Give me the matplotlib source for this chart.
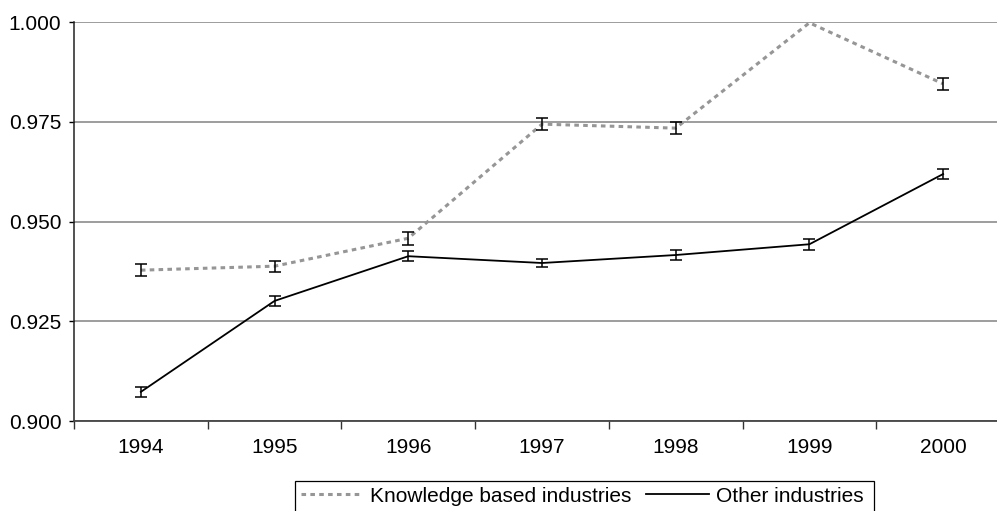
import numpy as np
import matplotlib
matplotlib.use('Agg')
import matplotlib.pyplot as plt
from matplotlib.patches import Rectangle

plt.rcParams['font.family'] = ['Liberation Sans', 'DejaVu Sans']
plt.rcParams['font.size'] = 15

# data
years = ['1994', '1995', '1996', '1997', '1998', '1999', '2000']
knowledge = [0.9378, 0.9388, 0.9458, 0.9744, 0.9734, 0.9998, 0.9845]
knowledge_err = [0.0015, 0.0014, 0.0016, 0.0015, 0.0015, np.nan, 0.0015]
other = [0.9073, 0.9301, 0.9413, 0.9396, 0.9416, 0.9443, 0.9619]
other_err = [0.0012, 0.0012, 0.0012, 0.0011, 0.0013, 0.0014, 0.0012]

W, H = 997, 511
fig = plt.figure(figsize=(W / 100, H / 100), dpi=100)
ax = fig.add_axes([74 / W, (H - 421) / H, 936 / W, 399 / H])

x = np.arange(len(years))

ax.plot(x, knowledge, color='#969696', lw=2.2, linestyle=(0, (1.5, 1.4)),
        label='Knowledge based industries', zorder=3)
ax.plot(x, other, color='black', lw=1.3, label='Other industries', zorder=3)
ax.errorbar(x, knowledge, yerr=knowledge_err, fmt='none', ecolor='black',
            elinewidth=1.1, capsize=4.3, capthick=1.1, zorder=4)
ax.errorbar(x, other, yerr=other_err, fmt='none', ecolor='black',
            elinewidth=1.1, capsize=4.3, capthick=1.1, zorder=4)

ax.set_xlim(-0.5, len(years) - 0.5)
ax.set_ylim(0.9, 1.0)
ax.set_yticks([0.900, 0.925, 0.950, 0.975, 1.000])
ax.set_yticklabels(['0.900', '0.925', '0.950', '0.975', '1.000'])
ax.yaxis.grid(True, color='#8c8c8c', lw=1.2)
ax.set_axisbelow(True)

# category labels centred, ticks on the boundaries
ax.set_xticks(x)
ax.set_xticklabels(years)
ax.tick_params(axis='x', which='major', length=0, pad=12.5)
ax.set_xticks(np.arange(len(years) + 1) - 0.5, minor=True)
ax.tick_params(axis='x', which='minor', length=6, width=1, color='#333333')
ax.tick_params(axis='y', length=3.5, width=1, pad=5.5)

for s in ['top', 'right']:
    ax.spines[s].set_visible(False)
ax.spines['left'].set_color('#222222')
ax.spines['bottom'].set_color('#444444')
ax.spines['left'].set_linewidth(1.1)
ax.spines['bottom'].set_linewidth(1.3)

leg = fig.legend(loc='upper center', bbox_to_anchor=(582 / W, 1 - 480.5 / H),
                 ncol=2, frameon=False, handlelength=3.0, handletextpad=0.32,
                 columnspacing=0.72, borderpad=0.3, borderaxespad=0,
                 fontsize=15)

# box around the legend, a bit more room on the right; cut by the figure edge
fig.canvas.draw()
bb = leg.get_window_extent()
fig.add_artist(Rectangle((bb.x0, bb.y0 - 20), bb.width + 5, bb.height + 20,
                         transform=None, fill=False, edgecolor='black', lw=0.9))

fig.savefig('out.png', dpi=100)
